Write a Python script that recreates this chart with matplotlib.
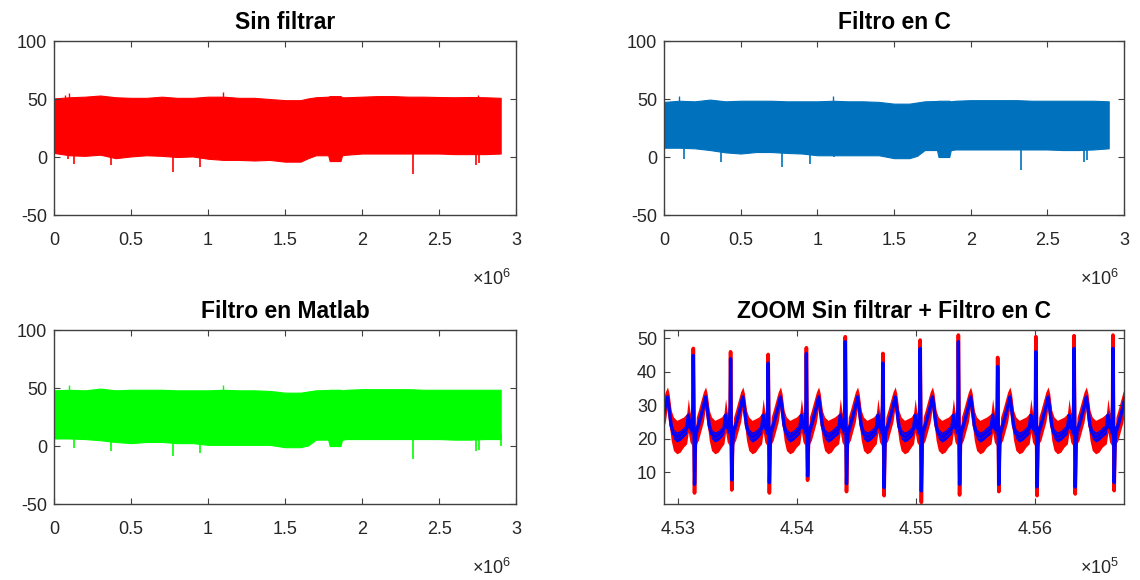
import numpy as np
import matplotlib
matplotlib.use("Agg")
import matplotlib.pyplot as plt
from matplotlib.ticker import MultipleLocator, FuncFormatter

plt.rcParams['font.family'] = ['Liberation Sans', 'DejaVu Sans']
plt.rcParams['mathtext.fontset'] = 'custom'
plt.rcParams['mathtext.rm'] = 'Liberation Sans'
plt.rcParams['axes.unicode_minus'] = False

# ---- overview panels: envelope of the dense signal (x in millions of samples)
env_x = [0.0, 0.1, 0.2, 0.3, 0.4, 0.5, 0.6, 0.7, 0.8, 0.9, 1.0, 1.1, 1.2, 1.3, 1.4, 1.5,
         1.6, 1.65, 1.7, 1.78, 1.79, 1.86, 1.87, 1.9, 2.0, 2.1, 2.2, 2.3, 2.4, 2.5, 2.6,
         2.7, 2.8, 2.9]

raw_hi = [50.5, 51.5, 52, 53, 51.5, 51, 51, 52, 51, 51, 52, 52, 51, 51, 50, 49,
          49, 50.5, 51.5, 52, 52.5, 52.5, 51.5, 51.5, 52, 52.5, 52.5, 52, 52, 51.7, 51.5,
          51.7, 51.5, 51]
raw_lo = [3.5, 1.5, 1, 2, -1, 0.5, 1.5, 1, 0, 0.5, -1.5, -2.5, -2.5, -3, -2.5, -4,
          -4, -1, 1.5, 1.5, -3.5, -3.5, 1.5, 2, 3, 3, 3, 3, 3, 3, 2.5,
          2.5, 2.5, 3]
raw_dn_x = [0.09, 0.13, 0.37, 0.77, 0.95, 1.11, 2.33, 2.74, 2.76]
raw_dn_y = [-2, -6.3, -7, -12.8, -8.8, -3, -14.8, -6.5, -5]
raw_up_x = [0.07, 0.1, 1.1, 1.8, 2.75]
raw_up_y = [53.5, 55, 55.7, 53, 53.5]

c_hi = [47.5, 48.5, 48, 49.5, 48, 48.5, 48.5, 48.5, 48, 48, 48, 48.5, 48, 48, 47.5, 46,
        46, 47, 48, 48.3, 48.5, 48.5, 48, 48.5, 49, 49, 49, 49, 48.5, 48.5, 48.5,
        48.5, 48.5, 48]
c_lo = [8, 8, 7.5, 6, 4, 3, 4.3, 4.3, 3.5, 3, 1.5, 1.5, 1.5, 1.5, 1.5, -1,
        -1, 1, 6, 6, 0, 0, 6, 6.5, 6.5, 6.5, 6.5, 6.5, 6.5, 6.5, 6,
        6, 6.5, 7.5]
c_dn_x = [0.13, 0.37, 0.77, 0.95, 1.11, 2.33, 2.74, 2.76]
c_dn_y = [-2, -4.3, -9, -6.3, 0, -11.4, -4, -3]
c_up_x = [0.1, 1.1]
c_up_y = [53, 52.6]

m_hi = [48, 48.5, 48, 49.5, 48, 48.5, 48.5, 48.5, 48, 48, 48, 48.5, 48, 48, 47.5, 46,
        46, 47, 48, 48.3, 48.5, 48.5, 48, 48.5, 49, 49, 49, 49, 48.5, 48.5, 48.5,
        48.5, 48.5, 48.5]
m_lo = [6.5, 6.5, 6, 5, 3.5, 2.5, 3.5, 3.5, 2.5, 2.5, 1, 1, 1, 1, 1, -1,
        -1, 0.5, 5.5, 5.5, 0, 0, 5.5, 6, 6, 6, 6, 6, 6, 6, 5.5,
        5.5, 6, 6]
m_dn_x = [0.13, 0.37, 0.77, 0.95, 1.11, 2.33, 2.74, 2.76, 2.9]
m_dn_y = [-2, -4.3, -9, -6.3, 0, -11.4, -4, -3, 0]
m_up_x = [0.1, 1.1]
m_up_y = [53, 52.6]

# ---- zoom panel: one heartbeat template (offsets in samples from the R peak)
beat_off = [-56, -42, -28, -11, -3, 0, 6, 10, 17, 25, 42, 61, 84, 103, 117, 134, 153, 181, 209, 237]
beat_shape = [23, 27, 23.5, 22.5, 30, 0, 20, 0, 18, 22.5, 24, 26.5, 29.5, 32.5, 29, 24, 21.5, 20.5, 21, 22]
raw_spread = [4.5, 5, 4.5, 4.5, 3.5, 0, 3, 0, 3, 4, 4.5, 4.5, 4.5, 3, 4.5, 4.5, 5, 5, 5, 4.5]
filt_spread = [1.5, 1.5, 1.5, 1.5, 1, 0, 1, 0, 1, 1.5, 1.5, 1.5, 1.5, 1, 1.5, 1.5, 1.5, 1.5, 1.5, 1.5]
R_IDX, S_IDX = 5, 7

r_pos = [452807, 453127, 453440, 453756, 454077, 454404, 454720, 455033, 455354,
         455684, 456005, 456326, 456653]
filt_r = [46, 44.9, 43.9, 42.6, 45.5, 49, 42.6, 47, 49, 41.6, 46, 47, 47]
filt_s = [6, 6.4, 7.7, 6.9, 8.9, 6.6, 5.4, 4.4, 6.4, 6.4, 5.6, 5.6, 6.9]
raw_r = [48, 47, 46, 45.2, 47.2, 50.5, 45.5, 49.5, 51, 44.3, 50.5, 50.8, 51]
raw_s = [4, 3.8, 4.7, 3.8, 7.6, 4.2, 3.0, 1.0, 3.2, 4.2, 3.0, 3.5, 4.5]

z_x, z_f, z_r, z_rs, z_fs = [], [], [], [], []
for rp, fr, fs, rr, rs in zip(r_pos, filt_r, filt_s, raw_r, raw_s):
    for i, off in enumerate(beat_off):
        z_x.append(rp + off)
        f = beat_shape[i]
        r = beat_shape[i]
        if i == R_IDX:
            f, r = fr, rr
        elif i == S_IDX:
            f, r = fs, rs
        z_f.append(f)
        z_r.append(r)
        z_rs.append(raw_spread[i])
        z_fs.append(filt_spread[i])
z_x = np.array(z_x)
z_f = np.array(z_f)
z_r = np.array(z_r)
z_rs = np.array(z_rs)
z_fs = np.array(z_fs)

AX_COL = '#404040'
TXT_COL = '#262626'

fig = plt.figure(figsize=(11.4, 5.8), dpi=100)
positions = [[0.0474, 0.6293, 0.4053, 0.30], [0.5825, 0.6293, 0.4035, 0.30],
             [0.0474, 0.1310, 0.4053, 0.30], [0.5825, 0.1310, 0.4035, 0.30]]
axes = [fig.add_axes(p) for p in positions]


def style(ax, title, expo):
    for s in ax.spines.values():
        s.set_color(AX_COL)
        s.set_linewidth(1.0)
    ax.tick_params(direction='in', length=4, width=0.8, color=AX_COL,
                   labelcolor=TXT_COL, labelsize=13, top=True, right=True)
    ax.tick_params(axis='x', pad=12)
    ax.tick_params(axis='y', pad=5)
    ax.set_title(title, fontsize=16.5, fontweight='bold', color='black', pad=9)
    ax.text(0.99, -0.40, r'$\times\mathregular{10^{%d}}$' % expo, transform=ax.transAxes,
            ha='right', va='baseline', fontsize=13, color=TXT_COL)


def overview(ax, hi, lo, dn_x, dn_y, up_x, up_y, color, title):
    xs = np.array(env_x) * 1e6
    ax.fill_between(xs, lo, hi, color=color, lw=0.8, edgecolor=color)
    ax.vlines(np.array(dn_x) * 1e6, dn_y, 10, color=color, lw=1.2)
    ax.vlines(np.array(up_x) * 1e6, 40, up_y, color=color, lw=1.0)
    ax.set_xlim(0, 3e6)
    ax.set_ylim(-50, 100)
    ax.set_yticks([-50, 0, 50, 100])
    ax.xaxis.set_major_locator(MultipleLocator(0.5e6))
    ax.xaxis.set_major_formatter(FuncFormatter(lambda v, p: f'{v / 1e6:g}'))
    style(ax, title, 6)


overview(axes[0], raw_hi, raw_lo, raw_dn_x, raw_dn_y, raw_up_x, raw_up_y, '#FF0000', 'Sin filtrar')
overview(axes[1], c_hi, c_lo, c_dn_x, c_dn_y, c_up_x, c_up_y, '#0072BD', 'Filtro en C')
overview(axes[2], m_hi, m_lo, m_dn_x, m_dn_y, m_up_x, m_up_y, '#00FF00', 'Filtro en Matlab')

ax = axes[3]
ax.fill_between(z_x, z_r - z_rs, z_r + z_rs, color='#FF0000', lw=0)
ax.plot(z_x, z_r, color='#FF0000', lw=2.6)
ax.fill_between(z_x, z_f - z_fs, z_f + z_fs, color='#0000FF', lw=0)
ax.plot(z_x, z_f, color='#0000FF', lw=2.4)
ax.set_xlim(452881, 456746)
ax.set_ylim(0.5, 52.5)
ax.set_yticks([10, 20, 30, 40, 50])
ax.xaxis.set_major_locator(MultipleLocator(1000))
ax.xaxis.set_major_formatter(FuncFormatter(lambda v, p: f'{v / 1e5:.2f}'))
style(ax, 'ZOOM Sin filtrar + Filtro en C', 5)

fig.savefig('out.png', dpi=100)
